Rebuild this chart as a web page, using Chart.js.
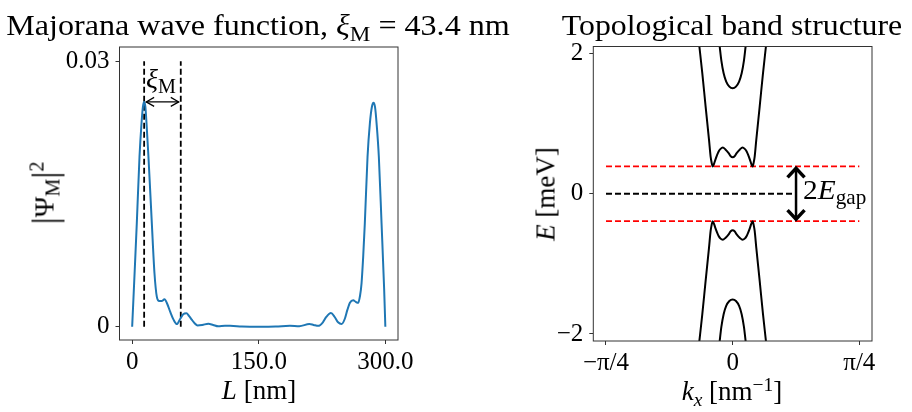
<!DOCTYPE html>
<html>
<head>
<meta charset="utf-8">
<script src="https://cdn.jsdelivr.net/npm/chart.js@4.4.1/dist/chart.umd.min.js"></script>
<style>
  body { margin: 0; width: 912px; height: 412px; overflow: hidden; position: relative; background: #fff; font-family: "Liberation Serif", serif; color: #000; }
  canvas { position: absolute; top: 0; }
  .t { position: absolute; white-space: nowrap; line-height: 1; }
  .sb { font-size: 72%; position: relative; top: 0.28em; }
  .sp { font-size: 72%; position: relative; top: -0.48em; }
  .bar { font-size: 125%; position: relative; top: 0.08em; }
</style>
</head>
<body>
<canvas id="chartWave" width="450" height="412" style="left:0"></canvas>
<canvas id="chartBand" width="452" height="412" style="left:460px"></canvas>

<div class="t" id="titleL" style="font-size:30px">Majorana wave function, <i>ξ</i><span class="sb">M</span> = 43.4 nm</div>
<div class="t" id="titleR" style="font-size:30px">Topological band structure</div>
<div class="t" id="xlabL" style="font-size:27px"><i>L</i> [nm]</div>
<div class="t" id="xlabR" style="font-size:27px"><i>k</i><span class="sb"><i>x</i></span> [nm<span class="sp">−1</span>]</div>
<div class="t" id="ylabL" style="font-size:28px"><span class="bar">|</span>Ψ<span class="sb">M</span><span class="bar">|</span><span class="sp">2</span></div>
<div class="t" id="ylabR" style="font-size:27px"><i>E</i> [meV]</div>
<div class="t" id="xiLab" style="font-size:28px"><i>ξ</i><span class="sb">M</span></div>
<div class="t" id="gapLab" style="font-size:28px">2<i>E</i><span class="sb">gap</span></div>

<script>
// ---- left panel: Majorana wave function ----
const wireL = [0, 3, 5.5, 8.7, 11.1, 12.8, 14.2, 15.6, 17, 19.3, 23.3, 26.4, 29.2, 32, 35, 38.3, 41.5, 45, 49, 52.9,
  57, 60.5, 64.3, 67.5, 70.6, 74, 77.5, 83, 90.3, 96, 102, 110, 116, 130, 150, 170, 187, 198, 210, 215,
  220.5, 226, 230, 235.5, 240, 244, 248.1, 252, 255, 258, 261.9, 265, 267.8, 270, 271.8, 273.8, 275.7, 278.9,
  281.7, 284.2, 286, 287.8, 289.6, 292.3, 295.5, 298.6, 300];
const psiSq = [0, 0.0063, 0.0117, 0.0192, 0.0230, 0.0249, 0.0254, 0.0249, 0.0230, 0.0192, 0.0117, 0.0061, 0.0034, 0.0029, 0.0029, 0.0031, 0.0026, 0.0017, 0.0008, 0.0003,
  0.0009, 0.0014, 0.00152, 0.0012, 0.0008, 0.0004, 0.00015, 0.0002, 0.00034, 0.0002, 0.00005, 0.0001, 0.0001, 0.00003, 0, 0.00002, 0.0001, 0.00005, 0.0003, 0.0002,
  0.0001, 0.0005, 0.0011, 0.00154, 0.0011, 0.0005, 0.0003, 0.0009, 0.0019, 0.0027, 0.0030, 0.0028, 0.0027, 0.0035, 0.0049, 0.0080, 0.0117, 0.0192,
  0.0230, 0.0249, 0.0253, 0.0248, 0.0230, 0.0192, 0.0117, 0.0042, 0];
const xiLines = [14.2, 57.6];
const xiArrowY = 0.0254;
const lTicks = [0, 150, 300];
const lTickLabels = ['0', '150.0', '300.0'];
const psiTicks = [0, 0.03];
const psiTickLabels = ['0', '0.03'];

// ---- right panel: band structure ----
const kOuter = [-0.2067, -0.1881, -0.1676, -0.1465, -0.1366, -0.1300, -0.1242, -0.1150, -0.1074, -0.0869, -0.0750, -0.0610, -0.0450, -0.0248, -0.0120, 0,
  0.0120, 0.0248, 0.0450, 0.0610, 0.0750, 0.0869, 0.1074, 0.1150, 0.1242, 0.1300, 0.1366, 0.1465, 0.1676, 0.1881, 0.2067];
const eOuterUp = [2.107, 1.718, 1.243, 0.769, 0.531, 0.440, 0.389, 0.430, 0.484, 0.602, 0.640, 0.659, 0.632, 0.579, 0.535, 0.522,
  0.535, 0.579, 0.632, 0.659, 0.640, 0.602, 0.484, 0.430, 0.389, 0.440, 0.531, 0.769, 1.243, 1.718, 2.107];
const eOuterDown = [-2.107, -1.718, -1.243, -0.769, -0.531, -0.440, -0.392, -0.432, -0.486, -0.602, -0.640, -0.655, -0.630, -0.579, -0.535, -0.522,
  -0.535, -0.579, -0.630, -0.655, -0.640, -0.602, -0.486, -0.432, -0.392, -0.440, -0.531, -0.769, -1.243, -1.718, -2.107];
const kInner = [-0.0807, -0.0700, -0.0559, -0.0400, -0.0205, 0, 0.0205, 0.0400, 0.0559, 0.0700, 0.0807];
const eInnerUp = [2.107, 1.900, 1.718, 1.600, 1.528, 1.504, 1.528, 1.600, 1.718, 1.900, 2.107];
const eInnerDown = [-2.107, -1.900, -1.718, -1.600, -1.530, -1.509, -1.530, -1.600, -1.718, -1.900, -2.107];
const eGap = 0.39;
const gapArrowK = 0.393;
const zeroLineEnd = 0.375;
const kTicks = [-Math.PI / 4, 0, Math.PI / 4];
const kTickLabels = ['−π/4', '0', 'π/4'];
const eTicks = [-2, 0, 2];
const eTickLabels = ['−2', '0', '2'];

const FONT = 'Liberation Serif';
const pts = (xs, ys) => xs.map((x, i) => ({ x, y: ys[i] }));

function axis(min, max, ticks, labels, fitSize, isY) {
  return {
    type: 'linear', min, max,
    afterBuildTicks: s => { s.ticks = ticks.map(v => ({ value: v })); },
    afterFit: s => { if (isY) s.width = fitSize; else s.height = fitSize; },
    ticks: { callback: (v, i) => labels[i], font: { family: FONT, size: 25 }, color: '#000', padding: isY ? 6 : 3, maxRotation: 0, autoSkip: false },
    grid: { drawOnChartArea: false, drawTicks: true, tickLength: 4, color: '#333', tickWidth: 1 },
    border: { display: false }
  };
}

function arrowHead(ctx, x, y, dx, dy, len, half) {
  // chevron pointing along (dx, dy) with tip at (x, y)
  const nx = -dy, ny = dx;
  ctx.beginPath();
  ctx.moveTo(x - dx * len + nx * half, y - dy * len + ny * half);
  ctx.lineTo(x, y);
  ctx.lineTo(x - dx * len - nx * half, y - dy * len - ny * half);
  ctx.stroke();
}

const frame = {
  id: 'frame',
  afterDraw(chart) {
    const { ctx, chartArea: a } = chart;
    ctx.save();
    ctx.strokeStyle = '#333';
    ctx.lineWidth = 1;
    ctx.strokeRect(a.left, a.top, a.right - a.left, a.bottom - a.top);
    ctx.restore();
  }
};

const baseOpts = {
  responsive: false, animation: false, devicePixelRatio: 1,
  plugins: { legend: { display: false }, tooltip: { enabled: false } },
  elements: { point: { radius: 0 } }
};

new Chart(document.getElementById('chartWave'), {
  type: 'line',
  data: {
    datasets: [
      { data: pts(wireL, psiSq), borderColor: '#1f77b4', borderWidth: 2, cubicInterpolationMode: 'monotone' },
      { data: pts([xiLines[0], xiLines[0]], [0, 0.03]), borderColor: '#000', borderWidth: 1.8, borderDash: [6, 3] },
      { data: pts([xiLines[1], xiLines[1]], [0, 0.03]), borderColor: '#000', borderWidth: 1.8, borderDash: [6, 3] }
    ]
  },
  options: {
    ...baseOpts,
    layout: { padding: { left: 0, top: 47, right: 52, bottom: 0 } },
    scales: {
      x: axis(-15, 315, lTicks, lTickLabels, 72, false),
      y: axis(-0.0015, 0.0316, psiTicks, psiTickLabels, 119.5, true)
    }
  },
  plugins: [frame, {
    id: 'xiArrow',
    afterDatasetsDraw(chart) {
      const { ctx, scales: { x, y } } = chart;
      const x0 = x.getPixelForValue(xiLines[0]) + 2, x1 = x.getPixelForValue(xiLines[1]) - 2;
      const yy = y.getPixelForValue(xiArrowY);
      ctx.save();
      ctx.strokeStyle = '#000'; ctx.lineWidth = 1.2;
      ctx.beginPath(); ctx.moveTo(x0, yy); ctx.lineTo(x1, yy); ctx.stroke();
      arrowHead(ctx, x0, yy, -1, 0, 8, 4.5);
      arrowHead(ctx, x1, yy, 1, 0, 8, 4.5);
      ctx.restore();
    }
  }]
});

new Chart(document.getElementById('chartBand'), {
  type: 'line',
  data: {
    datasets: [
      { data: pts(kOuter, eOuterUp), borderColor: '#000', borderWidth: 2, cubicInterpolationMode: 'monotone' },
      { data: pts(kOuter, eOuterDown), borderColor: '#000', borderWidth: 2, cubicInterpolationMode: 'monotone' },
      { data: pts(kInner, eInnerUp), borderColor: '#000', borderWidth: 2, cubicInterpolationMode: 'monotone' },
      { data: pts(kInner, eInnerDown), borderColor: '#000', borderWidth: 2, cubicInterpolationMode: 'monotone' },
      { data: pts([kTicks[0], kTicks[2]], [eGap, eGap]), borderColor: '#ff0000', borderWidth: 1.8, borderDash: [6, 3] },
      { data: pts([kTicks[0], kTicks[2]], [-eGap, -eGap]), borderColor: '#ff0000', borderWidth: 1.8, borderDash: [6, 3] },
      { data: pts([kTicks[0], zeroLineEnd], [0, 0]), borderColor: '#000', borderWidth: 1.8, borderDash: [6, 3] }
    ]
  },
  options: {
    ...baseOpts,
    layout: { padding: { left: 0, top: 46.5, right: 40, bottom: 0 } },
    scales: {
      x: axis(-0.864, 0.864, kTicks, kTickLabels, 71, false),
      y: axis(-2.1, 2.1, eTicks, eTickLabels, 133.3, true)
    }
  },
  plugins: [frame, {
    id: 'gapArrow',
    afterDatasetsDraw(chart) {
      const { ctx, scales: { x, y } } = chart;
      const xx = x.getPixelForValue(gapArrowK);
      const y0 = y.getPixelForValue(eGap), y1 = y.getPixelForValue(-eGap);
      ctx.save();
      ctx.strokeStyle = '#000'; ctx.lineWidth = 2.5; ctx.lineJoin = 'miter';
      ctx.beginPath(); ctx.moveTo(xx, y0 + 2); ctx.lineTo(xx, y1 - 2); ctx.stroke();
      ctx.lineWidth = 3.5;
      arrowHead(ctx, xx, y0 + 2, 0, -1, 9, 8.5);
      arrowHead(ctx, xx, y1 - 2, 0, 1, 9, 8.5);
      ctx.restore();
    }
  }]
});

// ---- text placement (baseline based) ----
function place(id, x, baseline, align, sx) {
  const el = document.getElementById(id);
  const size = parseFloat(el.style.fontSize);
  el.style.top = (baseline - 0.8375 * size) + 'px';
  el.style.left = x + 'px';
  const scale = sx ? ' scaleX(' + sx + ')' : '';
  if (align === 'center') el.style.transform = 'translateX(-50%)' + scale;
  else { el.style.transformOrigin = 'left center'; el.style.transform = scale; }
}
function placeRot(id, cx, cy) {
  const el = document.getElementById(id);
  el.style.left = cx + 'px';
  el.style.top = cy + 'px';
  el.style.transform = 'translate(-50%, -50%) rotate(-90deg)';
}
place('titleL', 258, 35, 'center', 1.07);
place('titleR', 732, 35, 'center', 1.06);
place('xlabL', 259, 400, 'center');
place('xlabR', 732, 401, 'center');
place('xiLab', 146, 88, 'left');
place('gapLab', 803, 199, 'left', 1.05);
placeRot('ylabL', 42, 193);
placeRot('ylabR', 546, 194);
</script>
</body>
</html>
